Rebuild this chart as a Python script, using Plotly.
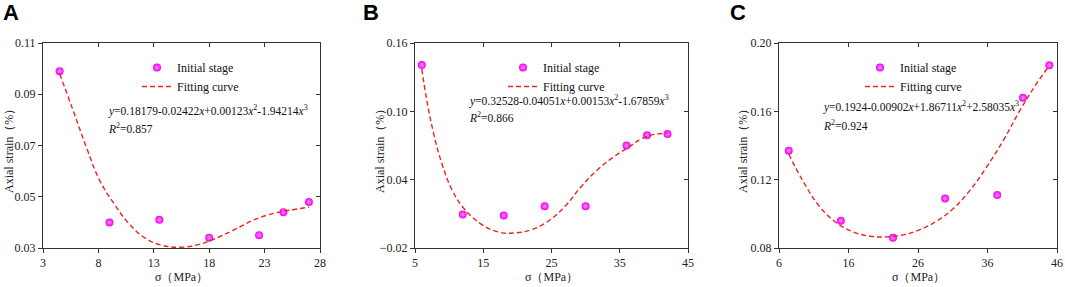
import plotly.graph_objects as go

# ---------------- data ----------------
a_sigma = [4.5, 9.0, 13.5, 18.0, 22.5, 24.7, 27.0]
a_strain = [0.099, 0.040, 0.041, 0.034, 0.035, 0.044, 0.048]
a_fit_x = [4.5, 5.7, 6.9, 8.1, 9.4, 10.6, 12.1, 13.6, 15.4, 16.9, 18.4, 20.2, 22.0, 23.8, 25.3, 27.0]
a_fit_y = [0.098, 0.0839, 0.0695, 0.0565, 0.0474, 0.0403, 0.0342, 0.0312, 0.0303, 0.0312,
           0.0334, 0.0370, 0.0409, 0.0435, 0.0448, 0.0459]

b_sigma = [6, 12, 18, 24, 30, 36, 39, 42]
b_strain = [0.1406, 0.0094, 0.0085, 0.0167, 0.0167, 0.0701, 0.0790, 0.0801]
b_fit_x = [6.0, 6.7, 7.7, 8.9, 10.4, 12.3, 14.8, 17.2, 19.6, 22.1, 24.5, 27.0, 29.4, 31.8,
           34.3, 36.2, 38.2, 40.1, 42.0]
b_fit_y = [0.1371, 0.1107, 0.0813, 0.0549, 0.0314, 0.0138, 0.0006, -0.0059, -0.0068, -0.0038,
           0.0035, 0.0167, 0.0343, 0.0490, 0.0608, 0.0681, 0.0760, 0.0798, 0.0807]

c_sigma = [7.4, 14.9, 22.4, 29.9, 37.4, 41.1, 44.9]
c_strain = [0.137, 0.096, 0.086, 0.109, 0.111, 0.168, 0.187]
c_fit_x = [7.4, 9.5, 11.9, 14.3, 16.7, 19.1, 21.5, 23.9, 26.3, 28.7, 31.1, 33.5, 35.9, 38.3,
           40.7, 43.1, 44.9]
c_fit_y = [0.135, 0.1188, 0.104, 0.0947, 0.0894, 0.0869, 0.0865, 0.0877, 0.0908, 0.0958,
           0.1031, 0.1139, 0.1276, 0.1432, 0.1608, 0.1765, 0.1867]

panel_labels = ["A", "B", "C"]
equations = [
    "<i>y</i>=0.18179-0.02422<i>x</i>+0.00123<i>x</i><sup>2</sup>-1.94214<i>x</i><sup>3</sup>",
    "<i>y</i>=0.32528-0.04051<i>x</i>+0.00153<i>x</i><sup>2</sup>-1.67859<i>x</i><sup>3</sup>",
    "<i>y</i>=0.1924-0.00902<i>x</i>+1.86711<i>x</i><sup>2</sup>+2.58035<i>x</i><sup>3</sup>",
]
r2_texts = ["<i>R</i><sup>2</sup>=0.857", "<i>R</i><sup>2</sup>=0.866", "<i>R</i><sup>2</sup>=0.924"]
x_title = "σ（MPa）"
y_title = "Axial strain（%）"
legend_names = ["Initial stage", "Fitting curve"]

x_ranges = [[3, 28], [5, 45], [6, 46]]
x_dticks = [5, 10, 10]
y_ranges = [[0.03, 0.11], [-0.02, 0.16], [0.08, 0.20]]
y_dticks = [0.02, 0.06, 0.04]

# ---------------- layout geometry ----------------
W, H = 1065, 287
plot_left = [43, 415, 779]
plot_right = [320, 688, 1057]
plot_top, plot_bottom = 43, 248

SERIF = "Liberation Serif"
MAG = "#f000f0"
RED = "#ee2222"

fig = go.Figure()
series = [(a_sigma, a_strain, a_fit_x, a_fit_y),
          (b_sigma, b_strain, b_fit_x, b_fit_y),
          (c_sigma, c_strain, c_fit_x, c_fit_y)]

layout_axes = {}
annotations = []
legends = {}

for i in range(3):
    n = i + 1
    xs = "" if n == 1 else str(n)
    xa, ya = "x" + xs, "y" + xs
    xm, ym = "x" + str(n + 3), "y" + str(n + 3)
    lg = "legend" if n == 1 else "legend" + str(n)
    sx, sy, fx, fy = series[i]

    fig.add_trace(go.Scatter(x=sx, y=sy, mode="markers", name=legend_names[0],
                             marker=dict(size=8, color=MAG, line=dict(width=0),
                                         gradient=dict(type="radial", color="#ff8cff")),
                             xaxis=xa, yaxis=ya, legend=lg, cliponaxis=False))
    fig.add_trace(go.Scatter(x=fx, y=fy, mode="lines", name=legend_names[1],
                             line=dict(color=RED, width=1.4, dash="5px,3px", shape="spline",
                                       smoothing=1.2),
                             xaxis=xa, yaxis=ya, legend=lg))
    # dummy trace for mirror axes
    fig.add_trace(go.Scatter(x=[None], y=[None], xaxis=xm, yaxis=ym, showlegend=False,
                             hoverinfo="skip"))

    xdom = [plot_left[i] / W, plot_right[i] / W]
    ydom = [1 - plot_bottom / H, 1 - plot_top / H]
    axcommon = dict(showgrid=False, zeroline=False, showline=True, linecolor="#333",
                    linewidth=1, tickcolor="#333", ticklen=4, tickwidth=1, automargin=False,
                    tickfont=dict(family=SERIF, size=12, color="#222"))
    layout_axes["xaxis" + xs] = dict(domain=xdom, range=x_ranges[i], tick0=x_ranges[i][0],
                                     dtick=x_dticks[i], ticks="outside", anchor=ya,
                                     ticklabeloverflow="allow", **axcommon)
    layout_axes["yaxis" + xs] = dict(domain=ydom, range=y_ranges[i], tick0=y_ranges[i][0],
                                     dtick=y_dticks[i], ticks="outside", tickformat=".2f",
                                     anchor=xa, ticklabeloverflow="allow", **axcommon)
    layout_axes["xaxis" + str(n + 3)] = dict(overlaying=xa, side="top", anchor=ya,
                                             range=x_ranges[i], tick0=x_ranges[i][0],
                                             dtick=x_dticks[i], ticks="inside",
                                             showticklabels=False, **axcommon)
    layout_axes["yaxis" + str(n + 3)] = dict(overlaying=ya, side="right", anchor=xa,
                                             range=y_ranges[i], tick0=y_ranges[i][0],
                                             dtick=y_dticks[i], ticks="inside",
                                             showticklabels=False, **axcommon)

    # panel label
    annotations.append(dict(text="<b>" + panel_labels[i] + "</b>", xref="paper", yref="paper",
                            x=[1, 361, 728][i] / W, y=1 - 13 / H, xanchor="left",
                            yanchor="middle", showarrow=False,
                            font=dict(family="Liberation Sans", size=22, color="#000")))
    # equation and R2
    eq_x = [106, 467, 821][i]
    eq_y = [111, 100, 106][i]
    r2_y = [128, 117, 125][i]
    annotations.append(dict(text=equations[i], xref="paper", yref="paper", x=eq_x / W,
                            y=1 - eq_y / H, xanchor="left", yanchor="middle", showarrow=False,
                            font=dict(family=SERIF, size=11.5, color="#111")))
    annotations.append(dict(text=r2_texts[i], xref="paper", yref="paper", x=eq_x / W,
                            y=1 - r2_y / H, xanchor="left", yanchor="middle", showarrow=False,
                            font=dict(family=SERIF, size=11.5, color="#111")))
    # axis titles
    annotations.append(dict(text=x_title, xref="paper", yref="paper",
                            x=(plot_left[i] + plot_right[i]) / 2 / W, y=1 - 277 / H,
                            xanchor="center", yanchor="middle", showarrow=False,
                            font=dict(family=SERIF, size=12, color="#222")))
    annotations.append(dict(text=y_title, xref="paper", yref="paper",
                            x=[9, 380, 743][i] / W, y=1 - 148 / H, textangle=-90,
                            xanchor="center", yanchor="middle", showarrow=False,
                            font=dict(family=SERIF, size=12, color="#222")))
    # legend
    lx = [137, 503, 860][i]
    legends[lg] = dict(x=lx / W, y=1 - 53 / H, xanchor="left", yanchor="top",
                       bgcolor="rgba(0,0,0,0)", borderwidth=0,
                       font=dict(family=SERIF, size=12, color="#111"),
                       tracegroupgap=0, itemwidth=30)

fig.update_layout(width=W, height=H, margin=dict(l=0, r=0, t=0, b=0, autoexpand=False),
                  paper_bgcolor="white", plot_bgcolor="white", showlegend=True,
                  font=dict(family=SERIF),
                  annotations=annotations, **layout_axes, **legends)

fig.write_html("out.html", config={"displayModeBar": False},
               post_script="document.body.style.margin='0';document.body.style.overflow='hidden';")
